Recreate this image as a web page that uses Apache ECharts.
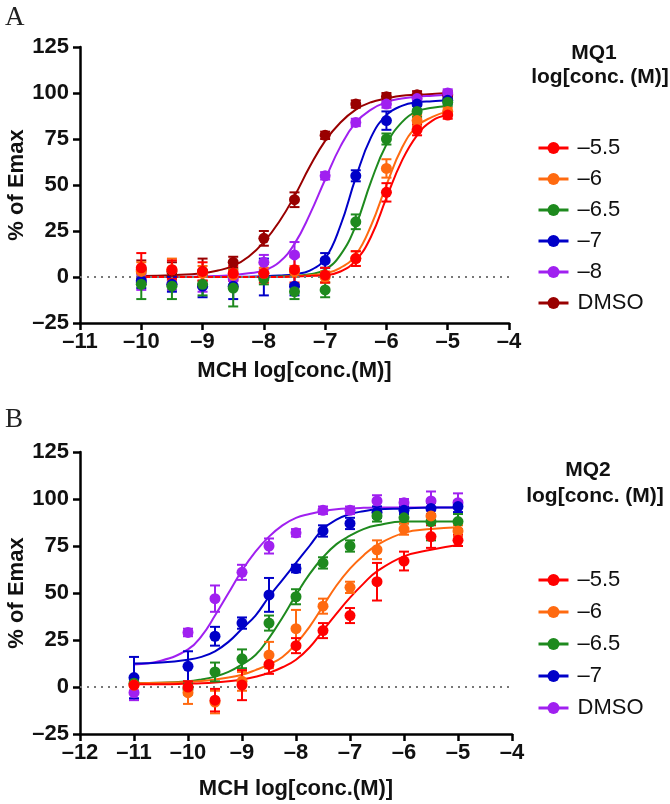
<!DOCTYPE html>
<html><head><meta charset="utf-8">
<script src="https://cdn.jsdelivr.net/npm/echarts@6/dist/echarts.min.js"></script>
<style>html,body{margin:0;padding:0;background:#fff}#c{width:670px;height:804px}</style>
</head><body><div id="c"></div><script>
// ---------- Panel A (MQ1) ----------
const namesA = ['–5.5', '–6', '–6.5', '–7', '–8', 'DMSO'];
const colorsA = ['#ff0000', '#ff6a10', '#1e8a1e', '#0000c8', '#a020f0', '#990000'];
const xA = [-10, -9.5, -9, -8.5, -8, -7.5, -7, -6.5, -6, -5.5, -5];
const a55 = [5, 4, 3, 2, 2, 4, 1, 10, 46, 80, 88];
const a60 = [3, 4, 2, 1, 2, 3, 0, 10, 59, 85, 90];
const a65 = [-4, -5, -4, -6, -1, -8, -7, 30, 75, 90, 95];
const a70 = [-2, -4, -5, -5, 0, -5, 9, 55, 85, 94, 96];
const a80 = [-3, -4, -5, -1, 8, 12, 55, 84, 94, 97, 100];
const aDMSO = [4, 3, 3, 8, 21, 42, 77, 94, 98, 99, 99];
const eA55 = [8, 5, 5, 4, 5, 7, 4, 4, 5, 3, 2];
const eA60 = [5, 6, 4, 3, 3, 3, 3, 4, 5, 3, 2];
const eA65 = [8, 7, 6, 10, 3, 4, 4, 4, 3, 3, 2];
const eA70 = [4, 4, 6, 7, 10, 5, 4, 3, 5, 3, 2];
const eA80 = [4, 3, 3, 4, 4, 7, 2, 2, 2, 2, 2];
const eADMSO = [5, 5, 7, 3, 4, 4, 2, 2, 2, 2, 2];
// fitted curves
const cxA = [-10, -9.5, -9, -8.75, -8.5, -8.25, -8, -7.75, -7.5, -7.25, -7, -6.75, -6.5, -6.25, -6, -5.75, -5.5, -5.25, -5];
const ca55 = [0, 0, 0, 0, 0, 0, 0, 0, 0.3, 0.6, 1, 3, 9, 22, 43, 63, 77, 85, 88];
const ca60 = [0, 0, 0, 0, 0, 0, 0, 0, 0.4, 1, 2, 5, 12, 28, 50, 70, 82, 87, 90];
const ca65 = [0, 0, 0, 0, 0, 0, 0, 0.3, 0.6, 1.5, 4, 12, 28, 52, 72, 84, 90, 92, 93];
const ca70 = [0, 0, 0, 0, 0, 0.2, 0.4, 0.8, 1.5, 3.5, 10, 28, 54, 76, 88, 93, 95, 95.5, 96];
const ca80 = [0, 0, 0.3, 0.6, 1, 2, 3.5, 8, 18, 34, 53, 71, 84, 91, 95, 97, 98, 98.5, 99];
const caDMSO = [0.5, 1, 2, 3.5, 6, 11, 19, 30, 44, 60, 74, 84, 91, 95, 97, 98.5, 99, 99.5, 100];

// ---------- Panel B (MQ2) ----------
const namesB = ['–5.5', '–6', '–6.5', '–7', 'DMSO'];
const colorsB = ['#ff0000', '#ff6a10', '#1e8a1e', '#0000c8', '#a020f0'];
const xB = [-11, -10, -9.5, -9, -8.5, -8, -7.5, -7, -6.5, -6, -5.5, -5];
const b55 = [1, 0, -7, 1, 12, 22, 30, 38, 56, 67, 80, 78];
const b60 = [1, -3, -8, 3, 17, 31, 43, 53, 73, 84, 91, 83];
const b65 = [2, -1, 8, 15, 34, 48, 66, 75, 91, 90, 88, 88];
const b70 = [5, 11, 27, 34, 49, 63, 83, 87, 93, 94, 95, 96];
const bDMSO = [-3, 29, 47, 61, 75, 82, 94, 94, 99, 98, 99, 98];
const eB55 = [3, 3, 6, 8, 5, 4, 4, 4, 10, 5, 6, 3];
const eB60 = [3, 6, 6, 5, 7, 10, 4, 3, 5, 3, 3, 3];
const eB65 = [2, 3, 5, 5, 4, 4, 3, 3, 3, 3, 10, 4];
const eB70 = [11, 8, 5, 3, 9, 2, 3, 3, 3, 2, 3, 3];
const eBDMSO = [4, 2, 7, 4, 4, 2, 2, 2, 3, 2, 5, 5];
const cxB = [-11, -10.5, -10, -9.75, -9.5, -9.25, -9, -8.75, -8.5, -8.25, -8, -7.75, -7.5, -7.25, -7, -6.75, -6.5, -6, -5.5, -5];
const cb55 = [1.5, 1.5, 1.8, 2, 2.4, 3, 4, 5.5, 7.5, 10.5, 14.5, 21, 30, 39, 47.5, 55, 61.5, 69.5, 73, 75.5];
const cb60 = [2, 2.2, 2.7, 3.2, 4, 5, 6.5, 9, 12, 16, 23, 32, 43, 54, 63, 70, 75.5, 82, 84, 85];
const cb65 = [2, 2.2, 3, 4, 5.5, 8, 12, 17, 26, 37, 49, 60, 69, 76, 80.5, 84, 86, 88, 88, 88];
const cb70 = [12.5, 13, 14.5, 16, 19, 24, 31, 38, 48, 57, 66, 75, 84, 89, 92, 93.5, 94.5, 95, 95.5, 95.5];
const cbDMSO = [12, 14, 20, 27, 38, 50, 62, 72, 80, 86, 90, 92, 93.5, 94.5, 95, 95.3, 95.5, 95.5, 95.5, 95.5];

const FONT = '"Liberation Sans", Arial, sans-serif';
const minus = v => (v < 0 ? '–' + Math.abs(v) : String(v));

function errRender(params, api) {
  const x = api.value(0), lo = api.value(1), hi = api.value(2);
  const p1 = api.coord([x, lo]), p2 = api.coord([x, hi]);
  const hw = 5;
  const style = { stroke: api.visual('color'), lineWidth: 2 };
  return { type: 'group', children: [
    { type: 'line', shape: { x1: p1[0], y1: p1[1], x2: p2[0], y2: p2[1] }, style },
    { type: 'line', shape: { x1: p1[0] - hw, y1: p1[1], x2: p1[0] + hw, y2: p1[1] }, style },
    { type: 'line', shape: { x1: p2[0] - hw, y1: p2[1], x2: p2[0] + hw, y2: p2[1] }, style }
  ]};
}

const series = [];
function addPanel(prefix, idx, names, colors, xs, vals, errs, cx, curves) {
  const order = names.map((_, i) => i).reverse(); // red drawn last (on top)
  order.forEach(i => {
    series.push({
      name: prefix + names[i], type: 'line', xAxisIndex: idx, yAxisIndex: idx,
      data: cx.map((x, k) => [x, curves[i][k]]), smooth: 0.45,
      symbol: 'circle', showSymbol: false, color: colors[i],
      lineStyle: { width: 2, color: colors[i] }, z: 3, silent: true
    });
  });
  order.forEach(i => {
    series.push({
      name: prefix + names[i], type: 'custom', xAxisIndex: idx, yAxisIndex: idx,
      renderItem: errRender, itemStyle: { color: colors[i] },
      data: xs.map((x, k) => [x, vals[i][k] - errs[i][k], vals[i][k] + errs[i][k]]), z: 4, silent: true
    });
    series.push({
      name: prefix + names[i], type: 'scatter', xAxisIndex: idx, yAxisIndex: idx,
      data: xs.map((x, k) => [x, vals[i][k]]), symbolSize: 11,
      itemStyle: { color: colors[i], opacity: 1 }, z: 5, silent: true
    });
  });
  series.push({
    type: 'line', xAxisIndex: idx, yAxisIndex: idx, data: [], silent: true, z: 1,
    markLine: { silent: true, symbol: ['none', 'none'], label: { show: false },
      lineStyle: { type: [2, 5], color: '#777', width: 2 }, data: [{ yAxis: 0 }] }
  });
}
addPanel('A|', 0, namesA, colorsA, xA, [a55, a60, a65, a70, a80, aDMSO],
  [eA55, eA60, eA65, eA70, eA80, eADMSO], cxA, [ca55, ca60, ca65, ca70, ca80, caDMSO]);
addPanel('B|', 1, namesB, colorsB, xB, [b55, b60, b65, b70, bDMSO],
  [eB55, eB60, eB65, eB70, eBDMSO], cxB, [cb55, cb60, cb65, cb70, cbDMSO]);

const axisCommon = {
  type: 'value',
  axisLine: { show: true, onZero: false, lineStyle: { color: '#000', width: 2.5 } },
  axisTick: { show: true, length: 7, lineStyle: { color: '#000', width: 2.5 } },
  splitLine: { show: false },
  axisLabel: { fontSize: 22, fontWeight: 'bold', color: '#111', fontFamily: FONT, formatter: minus },
  nameLocation: 'middle',
  nameTextStyle: { fontSize: 22, fontWeight: 'bold', color: '#111', fontFamily: FONT }
};
function xAx(gi, min, gap) {
  return Object.assign({}, axisCommon, { gridIndex: gi, min, max: -4, interval: 1,
    name: 'MCH log[conc.(M)]', nameGap: gap,
    axisLabel: Object.assign({}, axisCommon.axisLabel, { margin: 8 }) });
}
function yAx(gi) {
  return Object.assign({}, axisCommon, { gridIndex: gi, min: -25, max: 125, interval: 25,
    name: '% of Emax', nameGap: 52, nameRotate: 90, nameMoveOverlap: false,
    nameTextStyle: { fontSize: 22, fontWeight: 'bold', color: '#111', fontFamily: FONT },
    axisLabel: Object.assign({}, axisCommon.axisLabel, { margin: 11 }) });
}

const legendCommon = {
  orient: 'vertical', left: 537, itemWidth: 30, itemHeight: 15, padding: 0,
  selectedMode: false, formatter: n => n.split('|')[1],
  lineStyle: { width: 3 },
  textStyle: { fontSize: 22, lineHeight: 24, color: '#111', fontFamily: FONT, padding: [0, 0, 0, 4] }
};

const chart = echarts.init(document.getElementById('c'), null, { renderer: 'canvas' });
chart.setOption({
  animation: false,
  backgroundColor: '#fff',
  grid: [
    { left: 80, top: 47, width: 429, height: 276, containLabel: false, outerBoundsMode: 'none' },
    { left: 80, top: 452, width: 432, height: 282, containLabel: false, outerBoundsMode: 'none' }
  ],
  xAxis: [xAx(0, -11, 37), xAx(1, -12, 44)],
  yAxis: [yAx(0), yAx(1)],
  legend: [
    Object.assign({}, legendCommon, { top: 136, itemGap: 7, data: namesA.map(n => 'A|' + n) }),
    Object.assign({}, legendCommon, { top: 568, itemGap: 8, data: namesB.map(n => 'B|' + n) })
  ],
  graphic: [
    { type: 'text', x: 5, y: 4, style: { text: 'A', fontSize: 27, fontFamily: '"Liberation Serif", serif', fill: '#222' } },
    { type: 'text', x: 5, y: 406, style: { text: 'B', fontSize: 27, fontFamily: '"Liberation Serif", serif', fill: '#222' } },
    { type: 'text', x: 594, y: 53, style: { text: 'MQ1', fontSize: 21, fontWeight: 'bold', fontFamily: FONT, fill: '#111', align: 'center', verticalAlign: 'middle' } },
    { type: 'text', x: 600, y: 77, style: { text: 'log[conc. (M)]', fontSize: 21, fontWeight: 'bold', fontFamily: FONT, fill: '#111', align: 'center', verticalAlign: 'middle' } },
    { type: 'text', x: 588, y: 470, style: { text: 'MQ2', fontSize: 21, fontWeight: 'bold', fontFamily: FONT, fill: '#111', align: 'center', verticalAlign: 'middle' } },
    { type: 'text', x: 595, y: 496, style: { text: 'log[conc. (M)]', fontSize: 21, fontWeight: 'bold', fontFamily: FONT, fill: '#111', align: 'center', verticalAlign: 'middle' } }
  ],
  series
});
</script></body></html>
